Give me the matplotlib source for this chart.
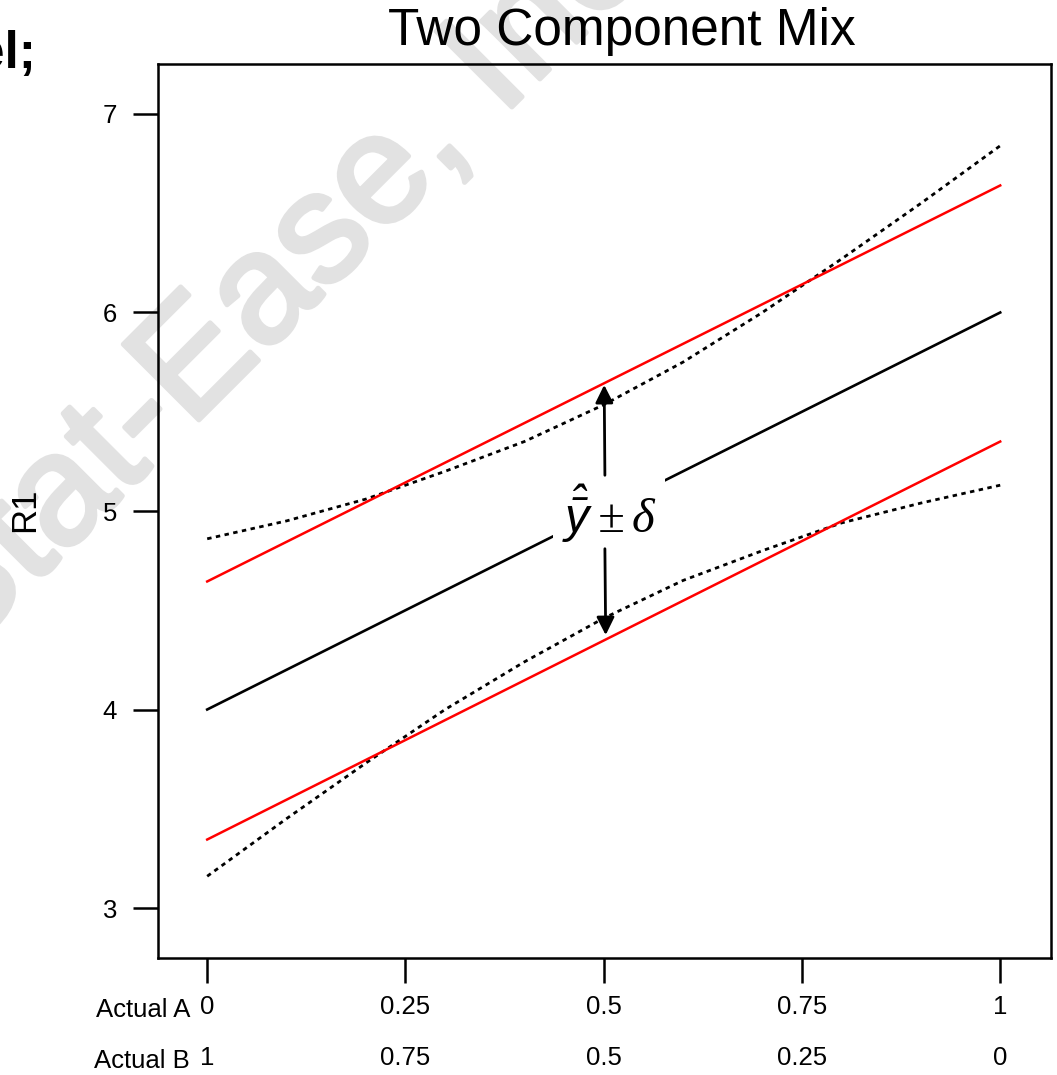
import matplotlib
matplotlib.use("Agg")
import matplotlib.pyplot as plt
import matplotlib.patheffects as pe

plt.rcParams['font.family'] = ['Liberation Sans', 'DejaVu Sans']
plt.rcParams['mathtext.fontset'] = 'custom'
plt.rcParams['mathtext.it'] = 'Liberation Sans:italic'
plt.rcParams['mathtext.rm'] = 'Liberation Serif:italic'

# mixture fraction of A (B = 1 - A)
frac_a = [0.0, 0.1, 0.2, 0.3, 0.4, 0.5, 0.6, 0.7, 0.8, 0.9, 1.0]
predicted = [4.00, 4.20, 4.40, 4.60, 4.80, 5.00, 5.20, 5.40, 5.60, 5.80, 6.00]
ci_upper = [4.86, 4.95, 5.06, 5.20, 5.35, 5.535, 5.75, 6.00, 6.27, 6.55, 6.84]
ci_lower = [3.16, 3.45, 3.73, 4.00, 4.24, 4.46, 4.65, 4.80, 4.94, 5.04, 5.13]

# tolerance limits (straight lines)
tol_x = [0.0, 1.0]
tol_upper = [4.645, 6.64]
tol_lower = [3.345, 5.35]

tick_pos = [0, 0.25, 0.5, 0.75, 1]
labels_a = ['0', '0.25', '0.5', '0.75', '1']
labels_b = ['1', '0.75', '0.5', '0.25', '0']
yticks = [3, 4, 5, 6, 7]

fig = plt.figure(figsize=(10.57, 10.75), dpi=100)
ax = fig.add_axes([0.1495, 0.1088, 0.8448, 0.8317])
ax.patch.set_alpha(0)

# watermark behind everything
wm_col = '#e2e2e2'
fig.text(0.274, 0.747, 'Stat-Ease, Inc.', fontsize=112, color=wm_col,
         rotation=45, ha='center', va='center', zorder=-5,
         path_effects=[pe.withStroke(linewidth=3.5, foreground=wm_col,
                                     capstyle='round', joinstyle='round')])

ax.plot(frac_a, predicted, color='black', lw=1.9, zorder=2)
ax.plot(frac_a, ci_upper, color='black', lw=2, ls=(0, (1.6, 1.6)), zorder=2)
ax.plot(frac_a, ci_lower, color='black', lw=2, ls=(0, (1.6, 1.6)), zorder=2)
ax.plot(tol_x, tol_upper, color='#ff0000', lw=1.8, zorder=2)
ax.plot(tol_x, tol_lower, color='#ff0000', lw=1.8, zorder=2)

# annotation text with arrows to the tolerance lines
ax.text(0.507, 4.985, r'$\hat{\bar{y}} \pm \mathrm{\delta}$', fontsize=35,
        ha='center', va='center', zorder=4,
        bbox=dict(facecolor='white', edgecolor='none', pad=6))
ax.annotate('', xy=(0.5006, 5.635), xytext=(0.5015, 5.18),
            arrowprops=dict(arrowstyle='-|>', color='black', lw=2,
                            mutation_scale=27, shrinkA=0, shrinkB=0), zorder=5)
ax.annotate('', xy=(0.5025, 4.375), xytext=(0.5015, 4.81),
            arrowprops=dict(arrowstyle='-|>', color='black', lw=2,
                            mutation_scale=27, shrinkA=0, shrinkB=0), zorder=5)

ax.set_xlim(-0.062, 1.064)
ax.set_ylim(2.748, 7.252)
ax.set_yticks(yticks)
ax.set_xticks(tick_pos)
ax.set_xticklabels(labels_a)
for s in ax.spines.values():
    s.set_linewidth(1.8)
ax.tick_params(direction='out', length=18, width=1.8, labelsize=18.5)
ax.tick_params(axis='y', pad=11.5)
ax.tick_params(axis='x', pad=8.5)

# second row of x labels for component B
sec = ax.secondary_xaxis(-51 / 894)
sec.set_xticks(tick_pos)
sec.set_xticklabels(labels_b)
sec.spines['bottom'].set_visible(False)
sec.tick_params(direction='out', length=18, width=1.8, color='none',
                labelsize=18.5, pad=8.5)

fig.text(0.0237, 0.526, 'R1', fontsize=25, rotation=90, ha='center', va='center')
fig.text(0.588, 0.958, 'Two Component Mix', fontsize=37, ha='center', va='baseline')
fig.text(0.034, 0.9367, 'el;', fontsize=37, fontweight='bold', ha='right', va='baseline')
fig.text(190 / 1057, 1 - 1017 / 1075, 'Actual A', fontsize=18.5, ha='right', va='baseline')
fig.text(190 / 1057, 1 - 1068 / 1075, 'Actual B', fontsize=18.5, ha='right', va='baseline')

fig.savefig('out.png', dpi=100)
